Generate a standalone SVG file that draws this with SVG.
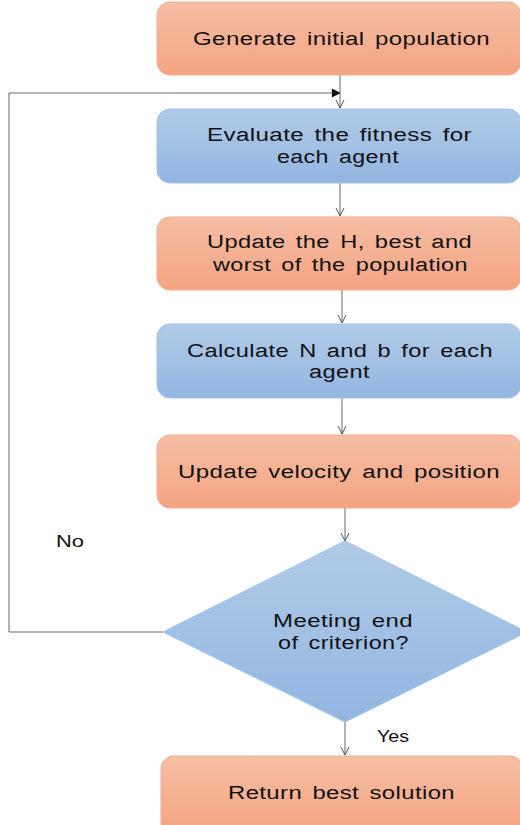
<svg xmlns="http://www.w3.org/2000/svg" width="520" height="825" viewBox="0 0 520 825">
<defs>
<linearGradient id="og" x1="0" y1="0" x2="0" y2="1"><stop offset="0" stop-color="#F6BEA4"/><stop offset="1" stop-color="#F4A482"/></linearGradient>
<linearGradient id="bg" x1="0" y1="0" x2="0" y2="1"><stop offset="0" stop-color="#B1CBE8"/><stop offset="1" stop-color="#92B6E1"/></linearGradient>
<marker id="open" viewBox="0 0 10 10" refX="9" refY="5" markerWidth="10" markerHeight="10" markerUnits="userSpaceOnUse" orient="auto"><path d="M1,1 L9,5 L1,9" fill="none" stroke="#555" stroke-width="1"/></marker>
<marker id="fill" viewBox="0 0 10 10" refX="9" refY="5" markerWidth="10" markerHeight="9" markerUnits="userSpaceOnUse" orient="auto"><path d="M0,0 L10,5 L0,10 Z" fill="#111"/></marker>
<style>
.o{fill:url(#og);stroke:#F3AC8C;stroke-width:1}
.b{fill:url(#bg);stroke:#A3C1E6;stroke-width:1}
.t{font-family:"Liberation Sans",Arial,sans-serif;font-size:18px;fill:#111;word-spacing:2.5px;letter-spacing:0.3px}
.l{font-family:"Liberation Sans",Arial,sans-serif;font-size:17px;fill:#111}
.c{fill:none;stroke:#666;stroke-width:1}
</style>
</defs>
<g id="connectors">
<polyline class="c" points="163,632 9,632 9,93 340,93" marker-end="url(#fill)"/>
<line class="c" x1="340" y1="75" x2="340" y2="108" marker-end="url(#open)"/>
<line class="c" x1="340" y1="183" x2="340" y2="216" marker-end="url(#open)"/>
<line class="c" x1="342" y1="290" x2="342" y2="323" marker-end="url(#open)"/>
<line class="c" x1="342" y1="398" x2="342" y2="434" marker-end="url(#open)"/>
<line class="c" x1="345" y1="508" x2="345" y2="541" marker-end="url(#open)"/>
<line class="c" x1="345" y1="722" x2="345" y2="755" marker-end="url(#open)"/>
</g>
<g id="n1"><rect class="o" x="157" y="2" width="364" height="73" rx="13"/><text class="t" x="193" y="45" textLength="297" lengthAdjust="spacingAndGlyphs">Generate initial population</text></g>
<g id="n2"><rect class="b" x="157" y="109" width="364" height="74" rx="13"/><text class="t" x="207" y="141" textLength="265" lengthAdjust="spacingAndGlyphs">Evaluate the fitness for</text><text class="t" x="277" y="163" textLength="122" lengthAdjust="spacingAndGlyphs">each agent</text></g>
<g id="n3"><rect class="o" x="157" y="217" width="364" height="73" rx="13"/><text class="t" x="207" y="248" textLength="265" lengthAdjust="spacingAndGlyphs">Update the H, best and</text><text class="t" x="213" y="271" textLength="255" lengthAdjust="spacingAndGlyphs">worst of the population</text></g>
<g id="n4"><rect class="b" x="157" y="324" width="364" height="74" rx="13"/><text class="t" x="187" y="357" textLength="306" lengthAdjust="spacingAndGlyphs">Calculate N and b for each</text><text class="t" x="309" y="378" textLength="61" lengthAdjust="spacingAndGlyphs">agent</text></g>
<g id="n5"><rect class="o" x="157" y="435" width="364" height="73" rx="13"/><text class="t" x="178" y="478" textLength="322" lengthAdjust="spacingAndGlyphs">Update velocity and position</text></g>
<g id="n6"><polygon class="b" points="345,541 527,632 345,722 163,632"/><text class="t" x="273" y="627" textLength="140" lengthAdjust="spacingAndGlyphs">Meeting end</text><text class="t" x="278" y="649" textLength="131" lengthAdjust="spacingAndGlyphs">of criterion?</text></g>
<g id="n7"><rect class="o" x="161" y="756" width="362" height="80" rx="13"/><text class="t" x="228" y="799" textLength="227" lengthAdjust="spacingAndGlyphs">Return best solution</text></g>
<g id="labels"><text class="l" x="56" y="547" textLength="28" lengthAdjust="spacingAndGlyphs">No</text><text class="l" x="377" y="742" textLength="32" lengthAdjust="spacingAndGlyphs">Yes</text></g>
</svg>
